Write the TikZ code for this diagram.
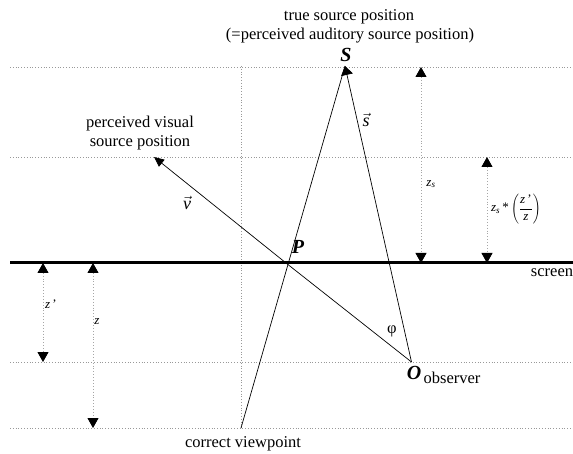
\documentclass[tikz,border=0pt]{standalone}
\usepackage{fontspec}
\setmainfont{Liberation Serif}
\usetikzlibrary{arrows.meta}
\begin{document}
\begin{tikzpicture}[x=1pt,y=-1pt,
  guide/.style={gray!80,dotted,line width=0.8pt},
  dimline/.style={gray!70,dotted,line width=0.9pt,{Triangle[width=11pt,length=10pt,black]}-{Triangle[width=11pt,length=10pt,black]}},
  ray/.style={black,line width=0.7pt},
  lbl/.style={font=\fontsize{16.5}{19}\selectfont,inner sep=0pt},
  sml/.style={font=\fontsize{13}{15}\selectfont,inner sep=0pt},
  big/.style={font=\fontsize{20}{22}\selectfont\bfseries\itshape,inner sep=0pt}]
\useasboundingbox (0,0) rectangle (573,454);
% coordinates
\coordinate (S) at (345,66);
\coordinate (O) at (411.5,362);
\coordinate (P) at (286,263);
\coordinate (V) at (241,428);
\coordinate (Vt) at (154,157);
% guide lines
\draw[guide] (10,67) -- (573,67);
\draw[guide] (10,157) -- (573,157);
\draw[guide] (10,362) -- (573,362);
\draw[guide] (10,428) -- (573,428);
\draw[guide] (241,66) -- (241,428);
% screen
\draw[line width=3pt] (10,263) -- (573,263);
% rays
\draw[ray] (V) -- (S);
\draw[ray,-{Triangle[width=12pt,length=9pt]}] (O) -- (S);
\draw[ray,-{Triangle[width=9pt,length=10pt]}] (O) -- (P) -- (Vt);
% dimension arrows
\coordinate (a1) at (421,67); \coordinate (a2) at (421,263);
\coordinate (b1) at (487,157); \coordinate (b2) at (487,263);
\coordinate (c1) at (43,263); \coordinate (c2) at (43,362);
\coordinate (d1) at (93,263); \coordinate (d2) at (93,428);
\draw[dimline] (a1) -- (a2);
\draw[dimline] (b1) -- (b2);
\draw[dimline] (c1) -- (c2);
\draw[dimline] (d1) -- (d2);
% labels
\node[lbl] (t1) at (349,17) {true source position};
\node[lbl] (t2) at (350,36) {(=perceived auditory source position)};
\node[big] (Sl) at (346,55) {S};
\node[lbl,font=\fontsize{18}{20}\selectfont] (sv) at (366,120) {$\vec{\mbox{\textit{s}}}$};
\node[lbl,font=\fontsize{18}{20}\selectfont] (vv) at (187,203) {$\vec{\mbox{\textit{v}}}$};
\node[lbl,align=center,font=\fontsize{16.5}{18.5}\selectfont] (pv) at (140,133) {perceived visual\\source position};
\node[big] (Pl) at (298,247) {P};
\node[sml] (zs) at (431,184) {\textit{z}\textsubscript{\textit{s}}};
\node[sml] (zsr) at (516,209) {\textit{z}\textsubscript{\textit{s}}\,*\,$\left(\displaystyle\frac{\mbox{\textit{z}\,'}}{\mbox{\textit{z}}}\right)$};
\node[lbl] (scr) at (552,273) {screen};
\node[sml] (zp) at (51,304) {\textit{z}\,'};
\node[sml] (zz) at (97,322) {\textit{z}};
\node[lbl] (phi) at (392,331) {φ};
\node[big] (Ol) at (414,373) {O};
\node[lbl] (obs) at (452,378) {observer};
\node[lbl] (cv) at (243,444) {correct viewpoint};
\end{tikzpicture}
\end{document}
